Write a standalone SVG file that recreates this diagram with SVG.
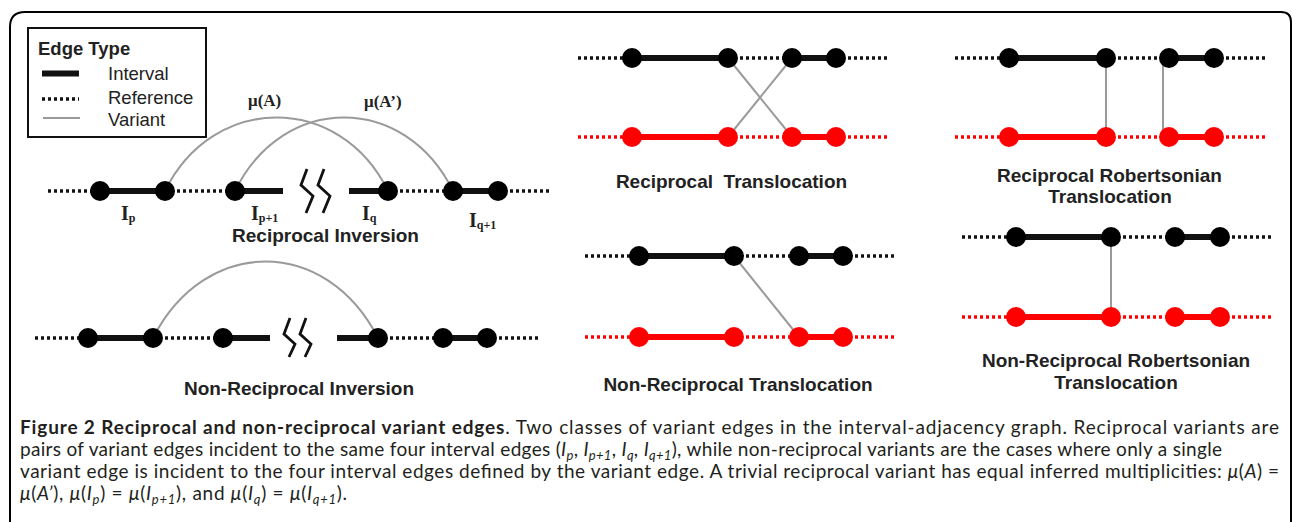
<svg xmlns="http://www.w3.org/2000/svg" width="1292" height="522" viewBox="0 0 1292 522">
  <style>
    .ref { stroke: #111; stroke-width: 3.5; stroke-dasharray: 3 3; fill: none; }
    .ref-red { stroke: #ff0000; stroke-width: 3.5; stroke-dasharray: 3 3; fill: none; }
    .int { stroke: #111; stroke-width: 6; fill: none; }
    .int-red { stroke: #ff0000; stroke-width: 6; fill: none; }
    .var { stroke: #9a9a9a; stroke-width: 2; fill: none; }
    .brk { stroke: #111; stroke-width: 2.8; fill: none; stroke-linejoin: miter; }
    .node { fill: #000; }
    .node-red { fill: #ff0000; }
    .lbl { font-family: "Liberation Sans", Arial, sans-serif; font-weight: bold; font-size: 19px; fill: #222; text-anchor: middle; }
    .leg { font-family: "Liberation Sans", Arial, sans-serif; font-size: 18.5px; fill: #222; }
    .ser { font-family: "Liberation Serif", "Times New Roman", serif; font-weight: bold; fill: #222; }
    .cap { font-family: Lato, "Open Sans", sans-serif; font-size: 19px; fill: #231f20; }
    .cap .b { font-weight: bold; }
    .cap .i { font-style: italic; }
    .cap .s { font-size: 13px; font-style: italic; }
  </style>

  <!-- figure frame -->
  <path d="M10,530 V27 Q10,12 25,12 H1281 Q1291,12 1291,22 V530" fill="none" stroke="#000" stroke-width="2"/>

  <!-- legend -->
  <g id="legend">
    <rect x="28" y="28" width="178" height="109" fill="#fff" stroke="#111" stroke-width="2"/>
    <text x="38" y="55" class="leg" font-weight="bold" font-size="19.5px">Edge Type</text>
    <line x1="42" y1="73.5" x2="79" y2="73.5" class="int"/>
    <text x="108" y="80" class="leg">Interval</text>
    <line x1="42" y1="99" x2="79" y2="99" class="ref"/>
    <text x="108" y="104" class="leg">Reference</text>
    <line x1="43" y1="118" x2="80" y2="118" class="var"/>
    <text x="108" y="126" class="leg">Variant</text>
  </g>

  <!-- variant edges -->
  <g id="connectors">
    <path d="M165,191 C213,93 340,93 388,191" class="var"/>
    <path d="M235,191 C283,93 405,93 453,191" class="var"/>
    <path d="M153,338 C205,236 326,236 378,338" class="var"/>
    <line x1="728" y1="58" x2="792" y2="137" class="var"/>
    <line x1="792" y1="58" x2="728" y2="137" class="var"/>
    <line x1="734" y1="256" x2="799" y2="337" class="var"/>
    <line x1="1106" y1="58" x2="1106" y2="137" class="var"/>
    <line x1="1163" y1="58" x2="1163" y2="137" class="var"/>
    <line x1="1111" y1="237" x2="1111" y2="317" class="var"/>
  </g>

  <!-- reciprocal inversion -->
  <g id="reciprocal-inversion">
    <line x1="48" y1="191" x2="100" y2="191" class="ref"/>
    <line x1="100" y1="191" x2="165" y2="191" class="int"/>
    <line x1="165" y1="191" x2="235" y2="191" class="ref"/>
    <line x1="235" y1="191" x2="283" y2="191" class="int"/>
    <polyline points="307,169 301,185 313,196 306,213" class="brk"/>
    <polyline points="324,169 318,185 330,196 323,213" class="brk"/>
    <line x1="349" y1="191" x2="388" y2="191" class="int"/>
    <line x1="388" y1="191" x2="453" y2="191" class="ref"/>
    <line x1="453" y1="191" x2="498" y2="191" class="int"/>
    <line x1="498" y1="191" x2="550" y2="191" class="ref"/>
    <circle cx="100" cy="191" r="10" class="node"/>
    <circle cx="165" cy="191" r="10" class="node"/>
    <circle cx="235" cy="191" r="10" class="node"/>
    <circle cx="388" cy="191" r="10" class="node"/>
    <circle cx="453" cy="191" r="10" class="node"/>
    <circle cx="498" cy="191" r="10" class="node"/>
    <text x="248" y="106" class="ser" font-size="17px">μ(A)</text>
    <text x="364" y="107" class="ser" font-size="17px">μ(A’)</text>
    <text x="121" y="220" class="ser" font-size="20px">I<tspan font-size="12px" dy="2">p</tspan></text>
    <text x="251" y="220" class="ser" font-size="20px">I<tspan font-size="12px" dy="2">p+1</tspan></text>
    <text x="362" y="220" class="ser" font-size="20px">I<tspan font-size="12px" dy="2">q</tspan></text>
    <text x="469" y="227" class="ser" font-size="20px">I<tspan font-size="12px" dy="2">q+1</tspan></text>
    <text x="325.5" y="242" class="lbl">Reciprocal Inversion</text>
  </g>

  <!-- non-reciprocal inversion -->
  <g id="non-reciprocal-inversion">
    <line x1="35" y1="338" x2="88" y2="338" class="ref"/>
    <line x1="88" y1="338" x2="153" y2="338" class="int"/>
    <line x1="153" y1="338" x2="223" y2="338" class="ref"/>
    <line x1="223" y1="338" x2="270" y2="338" class="int"/>
    <polyline points="290,318 284,334 295,344 289,357" class="brk"/>
    <polyline points="306,318 300,334 311,344 305,357" class="brk"/>
    <line x1="337" y1="338" x2="378" y2="338" class="int"/>
    <line x1="378" y1="338" x2="443" y2="338" class="ref"/>
    <line x1="443" y1="338" x2="487" y2="338" class="int"/>
    <line x1="487" y1="338" x2="538" y2="338" class="ref"/>
    <circle cx="88" cy="338" r="10" class="node"/>
    <circle cx="153" cy="338" r="10" class="node"/>
    <circle cx="223" cy="338" r="10" class="node"/>
    <circle cx="378" cy="338" r="10" class="node"/>
    <circle cx="443" cy="338" r="10" class="node"/>
    <circle cx="487" cy="338" r="10" class="node"/>
    <text x="299" y="395" class="lbl">Non-Reciprocal Inversion</text>
  </g>

  <!-- reciprocal translocation -->
  <g id="reciprocal-translocation">
    <line x1="578" y1="58" x2="632" y2="58" class="ref"/>
    <line x1="632" y1="58" x2="728" y2="58" class="int"/>
    <line x1="728" y1="58" x2="792" y2="58" class="ref"/>
    <line x1="792" y1="58" x2="836" y2="58" class="int"/>
    <line x1="836" y1="58" x2="888" y2="58" class="ref"/>
    <circle cx="632" cy="58" r="10" class="node"/>
    <circle cx="728" cy="58" r="10" class="node"/>
    <circle cx="792" cy="58" r="10" class="node"/>
    <circle cx="836" cy="58" r="10" class="node"/>
    <line x1="578" y1="137" x2="632" y2="137" class="ref-red"/>
    <line x1="632" y1="137" x2="728" y2="137" class="int-red"/>
    <line x1="728" y1="137" x2="792" y2="137" class="ref-red"/>
    <line x1="792" y1="137" x2="836" y2="137" class="int-red"/>
    <line x1="836" y1="137" x2="888" y2="137" class="ref-red"/>
    <circle cx="632" cy="137" r="10" class="node-red"/>
    <circle cx="728" cy="137" r="10" class="node-red"/>
    <circle cx="792" cy="137" r="10" class="node-red"/>
    <circle cx="836" cy="137" r="10" class="node-red"/>
    <text x="731.5" y="188" class="lbl" xml:space="preserve">Reciprocal  Translocation</text>
  </g>

  <!-- non-reciprocal translocation -->
  <g id="non-reciprocal-translocation">
    <line x1="585" y1="256" x2="639" y2="256" class="ref"/>
    <line x1="639" y1="256" x2="734" y2="256" class="int"/>
    <line x1="734" y1="256" x2="799" y2="256" class="ref"/>
    <line x1="799" y1="256" x2="843" y2="256" class="int"/>
    <line x1="843" y1="256" x2="894" y2="256" class="ref"/>
    <circle cx="639" cy="256" r="10" class="node"/>
    <circle cx="734" cy="256" r="10" class="node"/>
    <circle cx="799" cy="256" r="10" class="node"/>
    <circle cx="843" cy="256" r="10" class="node"/>
    <line x1="585" y1="337" x2="639" y2="337" class="ref-red"/>
    <line x1="639" y1="337" x2="734" y2="337" class="int-red"/>
    <line x1="734" y1="337" x2="799" y2="337" class="ref-red"/>
    <line x1="799" y1="337" x2="843" y2="337" class="int-red"/>
    <line x1="843" y1="337" x2="894" y2="337" class="ref-red"/>
    <circle cx="639" cy="337" r="10" class="node-red"/>
    <circle cx="734" cy="337" r="10" class="node-red"/>
    <circle cx="799" cy="337" r="10" class="node-red"/>
    <circle cx="843" cy="337" r="10" class="node-red"/>
    <text x="738" y="391" class="lbl">Non-Reciprocal Translocation</text>
  </g>

  <!-- reciprocal robertsonian translocation -->
  <g id="reciprocal-robertsonian">
    <line x1="955" y1="58" x2="1009" y2="58" class="ref"/>
    <line x1="1009" y1="58" x2="1106" y2="58" class="int"/>
    <line x1="1106" y1="58" x2="1169" y2="58" class="ref"/>
    <line x1="1169" y1="58" x2="1214" y2="58" class="int"/>
    <line x1="1214" y1="58" x2="1266" y2="58" class="ref"/>
    <circle cx="1009" cy="58" r="10" class="node"/>
    <circle cx="1106" cy="58" r="10" class="node"/>
    <circle cx="1169" cy="58" r="10" class="node"/>
    <circle cx="1214" cy="58" r="10" class="node"/>
    <line x1="955" y1="137" x2="1009" y2="137" class="ref-red"/>
    <line x1="1009" y1="137" x2="1106" y2="137" class="int-red"/>
    <line x1="1106" y1="137" x2="1169" y2="137" class="ref-red"/>
    <line x1="1169" y1="137" x2="1214" y2="137" class="int-red"/>
    <line x1="1214" y1="137" x2="1266" y2="137" class="ref-red"/>
    <circle cx="1009" cy="137" r="10" class="node-red"/>
    <circle cx="1106" cy="137" r="10" class="node-red"/>
    <circle cx="1169" cy="137" r="10" class="node-red"/>
    <circle cx="1214" cy="137" r="10" class="node-red"/>
    <text x="1109.5" y="182" class="lbl">Reciprocal Robertsonian</text>
    <text x="1110" y="203" class="lbl">Translocation</text>
  </g>

  <!-- non-reciprocal robertsonian translocation -->
  <g id="non-reciprocal-robertsonian">
    <line x1="962" y1="237" x2="1016" y2="237" class="ref"/>
    <line x1="1016" y1="237" x2="1111" y2="237" class="int"/>
    <line x1="1111" y1="237" x2="1175" y2="237" class="ref"/>
    <line x1="1175" y1="237" x2="1220" y2="237" class="int"/>
    <line x1="1220" y1="237" x2="1273" y2="237" class="ref"/>
    <circle cx="1016" cy="237" r="10" class="node"/>
    <circle cx="1111" cy="237" r="10" class="node"/>
    <circle cx="1175" cy="237" r="10" class="node"/>
    <circle cx="1220" cy="237" r="10" class="node"/>
    <line x1="962" y1="317" x2="1016" y2="317" class="ref-red"/>
    <line x1="1016" y1="317" x2="1111" y2="317" class="int-red"/>
    <line x1="1111" y1="317" x2="1175" y2="317" class="ref-red"/>
    <line x1="1175" y1="317" x2="1220" y2="317" class="int-red"/>
    <line x1="1220" y1="317" x2="1273" y2="317" class="ref-red"/>
    <circle cx="1016" cy="317" r="10" class="node-red"/>
    <circle cx="1111" cy="317" r="10" class="node-red"/>
    <circle cx="1175" cy="317" r="10" class="node-red"/>
    <circle cx="1220" cy="317" r="10" class="node-red"/>
    <text x="1116" y="367" class="lbl">Non-Reciprocal Robertsonian</text>
    <text x="1116" y="389" class="lbl">Translocation</text>
  </g>

  <!-- caption -->
  <g id="caption" class="cap">
    <text x="20" y="434" textLength="1259" lengthAdjust="spacing"><tspan class="b">Figure 2 Reciprocal and non-reciprocal variant edges</tspan>. Two classes of variant edges in the interval-adjacency graph. Reciprocal variants are</text>
    <text x="20" y="456" textLength="1202" lengthAdjust="spacing">pairs of variant edges incident to the same four interval edges (<tspan class="i">I</tspan><tspan class="s" dy="4">p</tspan><tspan dy="-4">, </tspan><tspan class="i">I</tspan><tspan class="s" dy="4">p+1</tspan><tspan dy="-4">, </tspan><tspan class="i">I</tspan><tspan class="s" dy="4">q</tspan><tspan dy="-4">, </tspan><tspan class="i">I</tspan><tspan class="s" dy="4">q+1</tspan><tspan dy="-4">), while non-reciprocal variants are the cases where only a single</tspan></text>
    <text x="20" y="478" textLength="1259" lengthAdjust="spacing">variant edge is incident to the four interval edges defined by the variant edge. A trivial reciprocal variant has equal inferred multiplicities: <tspan class="i">μ</tspan>(<tspan class="i">A</tspan>) =</text>
    <text x="20" y="500" textLength="327" lengthAdjust="spacing"><tspan class="i">μ</tspan>(<tspan class="i">A’</tspan>), <tspan class="i">μ</tspan>(<tspan class="i">I</tspan><tspan class="s" dy="4">p</tspan><tspan dy="-4">) = </tspan><tspan class="i">μ</tspan>(<tspan class="i">I</tspan><tspan class="s" dy="4">p+1</tspan><tspan dy="-4">), and </tspan><tspan class="i">μ</tspan>(<tspan class="i">I</tspan><tspan class="s" dy="4">q</tspan><tspan dy="-4">) = </tspan><tspan class="i">μ</tspan>(<tspan class="i">I</tspan><tspan class="s" dy="4">q+1</tspan><tspan dy="-4">).</tspan></text>
  </g>
</svg>
